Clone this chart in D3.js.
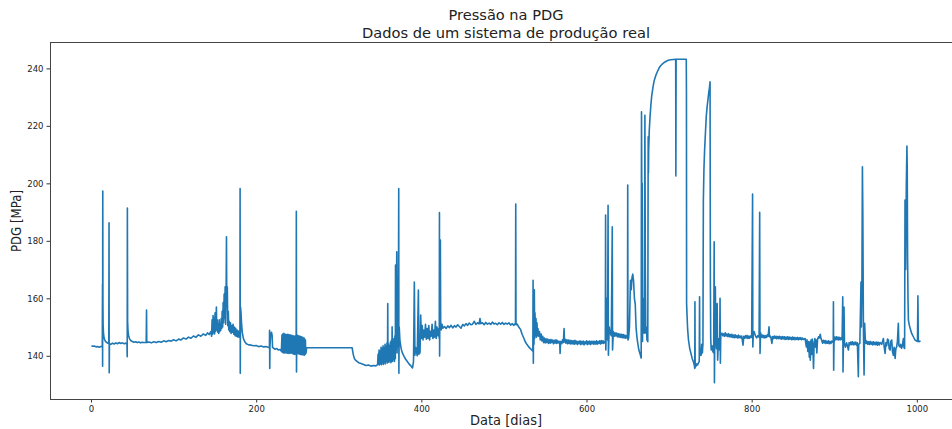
<!DOCTYPE html>
<html>
<head>
<meta charset="utf-8">
<script src="https://cdn.jsdelivr.net/npm/d3@7"></script>
<style>
  html, body { margin: 0; padding: 0; background: #fff; }
  svg { display: block; }
  text { font-family: "DejaVu Sans", sans-serif; fill: #222; }
</style>
</head>
<body>
<svg id="chart" width="952" height="429"></svg>
<script>
// Leituras de pressão no PDG: pares [dia, pressão em MPa], por trecho
const trecho1 = [
  [0.5,143.5],[2,143.3],[4,143.4],[6,143.1],[8,143.2],[10,143.0],[12,143.2],[13.6,143.3],
  [13.9,165],[14.0,136.4],[14.2,197.3],[14.4,158],[14.6,151],[15.0,148.2],[15.6,146.6],[16.4,145.6],[17.5,145.0],[19,144.6],[20.5,144.4],[21.5,144.3],
  [21.8,186.3],[22.0,134.1],[22.3,144.2],[24,144.0],[26,144.4],[28,144.1],[30,144.5],[32,144.2],[34,144.6],[36,144.3],[38,144.5],[40,144.2],[42,144.4],[43.5,144.3],
  [43.8,139.7],[44.0,191.4],[44.3,152],[44.8,148.5],[45.5,147.0],[46.5,146.0],[48,145.3],[50,145.0],[52,144.7],[54,144.9],[56,144.6],[58,144.8],[60,144.5],[62,144.7],[64,144.6],[66.8,144.7],
  [67.2,155.9],[67.5,144.6],[70,144.8],[73,144.5],[76,144.9],[79,144.6],[82,145.0],[85,144.7],[88,145.2],[91,144.9],[94,145.3],[97,145.1],[100,145.6],[103,145.2],[106,145.8],[109,145.5],[112,146.2],[115,145.8],[118,146.5],[121,146.1],[124,146.9],[127,146.4],[130,147.3],[133,146.8],[136,147.6],[139,147.1],[141,148.0],[143,147.4],[145,148.4]
];

const trecho2 = [
  [146,146.8],[146.6,152.5],[147.2,147.5],[147.8,154.0],[148.4,148.0],[149,153.0],[149.6,147.6],[150.2,155.0],[150.8,148.5],[151.4,153.5],[151.8,157.0],[152.2,149.0],[152.8,152.5],[153.4,148.2],[154,151.0],[154.6,147.8],[155.2,152.5],[155.8,148.4],[156.4,150.5],[157,148.8],[157.6,153.0],[158.2,149.5],[158.8,155.5],[159.4,150.0],[160,158.5],[160.6,151.5],[161.2,161.5],[161.8,153.0],[162.4,164.0],[163,151.0],[163.6,163.0],[164.0,181.4],[164.4,157.0],[165,164.0],[165.6,150.5],[166.2,155.5],[166.8,149.0],[167.4,152.0],[168,148.4],[168.8,151.5],[169.6,147.8],[170.4,150.5],[171.2,148.2],[172,151.0],[172.8,147.5],[173.6,150.0],[174.4,147.0],[175.2,149.6],[176,146.8],[176.8,149.0],[177.6,146.6],[178.4,148.6],[179.2,146.5],[179.9,147.5],
  [180.3,146.6],[180.5,198.2],[180.7,133.9],[181.0,157.0],[181.6,155.0],[182.3,151.0],[183.2,148.0],[184.5,146.0],[186,145.0],[188,144.2],[191,143.8],[194,143.7],[197,143.5],[200,143.6],[203,143.2],[206,143.4],[209,143.1],[212,143.2],[215,142.9],[216.0,143.0],
  [216.2,148.9],[216.4,135.6],[216.7,143.5],[217.5,147.5],[218.5,148.2],[219.3,147.0],[219.8,143.0],[221,142.6],[223,142.3],[225,142.5],[227,142.0],[229,142.2],[230.5,141.6]
];

const trecho3 = [
  [231.2,147.2],[231.6,141.2],[232.0,147.6],[232.4,141.5],[232.8,147.0],[233.2,141.0],[233.6,147.8],[234.0,141.4],[234.4,147.2],[234.8,141.0],[235.2,147.5],[235.6,141.3],[236.0,146.8],[236.4,141.0],[236.8,147.4],[237.2,141.2],[237.6,147.0],[238.0,140.9],[238.4,147.5],[238.8,141.2],[239.2,146.9],[239.6,140.8],[240.0,147.3],[240.4,141.0],[240.8,146.8],[241.2,140.9],[241.6,147.2],[242.0,141.1],[242.4,146.7],[242.8,141.0],[243.2,147.1],[243.6,140.8],[244.0,146.6],[244.4,140.9],[244.8,147.0],[245.2,140.6],[245.6,146.5],[246.0,140.8],[246.4,146.8],[246.8,140.5],[247.2,146.9],[247.6,140.7],[248.0,146.7],[248.4,141.0],
  [248.6,190.3],[248.8,134.4],[249.2,146.8],[249.6,141.0],[250.0,147.1],[250.4,140.8],[250.8,146.6],[251.2,140.9],[251.6,147.0],[252.0,140.6],[252.4,146.5],[252.8,140.8],[253.2,146.8],[253.6,140.5],[254.0,146.3],[254.4,140.7],[254.8,146.6],[255.2,140.4],[255.6,146.0],[256.0,140.6],[256.4,146.4],[256.8,140.3],[257.2,146.1],[257.6,140.5],[258.0,146.2],[258.4,140.2],[258.8,145.8],[259.2,140.5],[259.6,145.5],[260.0,140.8],[260.5,141.2],[261,142.8],
  [316.2,142.8],
  [317.5,140.5],[319,139.0],[321,138.3],[324,137.6],[327,137.3],[330,137.0],[333,136.6],[336,136.8],[339,136.4],[342,136.6],[345,136.5],[347,136.9]
];

const trecho4 = [
  [347.6,140.5],[348.2,137.0],[348.8,142.0],[349.4,136.8],[350,141.5],[350.6,137.2],[351.2,143.0],[351.8,136.9],[352.4,142.5],[353,137.5],[353.6,143.5],[354.2,137.0],[354.8,142.8],[355.4,137.6],[356,144.0],[356.6,137.2],[357.2,143.2],[357.8,138.0],[358.4,144.5],[359,137.5],[359.3,158.2],[359.6,138.0],[360.2,144.2],[360.8,137.8],[361.4,143.5],[362,138.2],[362.6,144.8],[363.2,137.6],[363.8,145.5],[364.3,138.5],[364.6,150.1],[365,138.0],[365.6,145.0],[366.2,138.6],[366.8,146.0],[367.4,138.0],[368,147.0],[368.5,139.0],[368.7,171.6],[369.2,142.0],[369.8,160.0],[370.2,176.2],[370.6,141.0],[371.2,165.0],[371.8,143.0],[372.4,175.0],[372.6,198.2],[372.8,133.9],[373.2,150.0],[374,145.5],[375.5,142.5],[377,141.0],[379,139.8],[381,138.8],[383,138.0],[385,137.2],[387,136.6],[389.3,135.8],
  [390.5,138.0],[391.5,165.7],[392.2,140.2],[393,143.0],[394,141.5],[395,140.0],[396.4,162.9],[397.0,140.5],[397.6,143.5],[398.4,141.0],[399.2,154.2],[400,146.0],[401,150.5],[402,145.5],[403,149.0],[404,146.5],[405,151.0],[406,145.8],[407,149.5],[408,146.0],[409,150.5],[410,145.5],[411,148.5],[412,146.8],[413,151.0],[414,146.0],[415,149.0],[416,146.5],[417,152.0],[418,146.0],[419,150.0],[420,147.0],[421,149.5],[421.7,146.0],[421.9,189.8],[422.1,139.9],[422.5,160.0],[423.0,180.3],[423.4,152.0],[424,149.0],[425,151.0],[426,149.6],[428,150.2],[430,149.5],[432,150.4],[434,149.8],[436,150.6],[438,149.7],[440,150.5],[442,150.0],[444,150.8],[446,150.2],[448,149.6],[450,150.9],[452,150.4],[454,151.2],[456,150.6],[458,151.4],[460,150.8],[462,151.0],[464,152.0],[466,150.9],[468,151.5],[470,151.1],[471,153.0],[472,151.2],[474,151.5],[476,150.8],[478,151.6],[480,151.0],[482,151.4],[484,150.9],[486,151.7],[488,151.1],[490,151.3],[492,150.8],[494,151.5],[496,151.0],[498,151.6],[500,150.9],[502,151.4],[504,151.0],[506,151.5],[508,150.7],[510,151.2],[512,150.6],[514,151.3],[514.3,192.8],[514.6,150.8],[516,151.0],[518,150.0],[520,149.2],[522,147.5],[524,146.2],[526,144.8],[528,143.9],[530,143.1],[532,142.5],[534,142.0],[535,141.6]
];

const trecho5 = [
  [535.3,166.3],[535.6,137.4],[536,160.0],[536.4,144.0],[536.8,163.0],[537.2,146.0],[537.6,155.0],[538.2,147.0],[538.8,153.0],[539.4,146.5],[540,151.5],[540.6,147.0],[541.2,149.5],[542,146.8],[543,148.4],[544,145.5],[545,147.6],[546,145.2],[547,146.8],[548,144.6],[549,146.2],[550,144.5],[551,145.9],[552,144.6],[553,145.8],[554,144.3],[555,145.6],[556,144.4],[557,145.7],[558,144.6],[559,145.5],[560,144.2],[561,145.4],[562,144.4],[563,145.6],[564,144.3],[565,145.3],[566,144.5],[567.5,145.0],[568,140.8],[568.6,145.0],[570,144.2],[571,145.6],[572,144.6],[572.8,149.5],[573.4,144.8],[574,145.8],[575,144.4],[576,145.6],[577,144.2],[578,145.5],[579,144.3],[580,145.4],[581,144.1],[582,145.3],[583,144.2],[584,145.2],[585,144.0],[586,145.4],[587,144.2],[588,145.1],[589,143.9],[590,145.0],[591,144.2],[592,145.2],[593,143.9],[594,145.0],[595,144.1],[596,145.1],[597,143.8],[598,144.9],[599,144.2],[600,145.2],[601,143.9],[602,145.0],[603,144.1],[604,145.1],[605,143.9],[606,145.0],[607,144.2],[608,145.1],[609,144.0],[610,145.0],[611,144.1],[612,145.2],[613,144.0],[614,145.0],[615,144.3],[616,145.2],[617,144.1],[618,145.3],[619,144.4],[620,145.2],[621,144.3],[622.8,145.2],
  [623.1,189.0],[623.4,142.0],[624.5,160.0],[625.5,145.5],[626.1,192.4],[626.5,140.2],[627.5,150.0],[628.5,148.0],[630,147.0],[631.2,184.9],[631.5,142.0],[632.5,148.4],[633.5,146.8],[634.5,148.0],[635.5,146.9],[636.5,147.9],[637.5,146.6],[638.5,147.7],[639.5,146.5],[640.5,147.6],[641.5,146.4],[642.5,147.5],[643.5,146.3],[644.5,147.4],[645.5,146.2],[646.5,147.2],[647.5,146.1],[648.5,147.0],[649.6,146.2],
  [649.9,199.4],[650.2,145.5],[651,146.2],[652,150.0],[653.2,166.3],[654.2,163.0],[655,167.0],[656,168.4],[657,166.0],[658,160.0],[659,158.0],[660,150.0],[661,146.6],[662,144.5],[663.4,142.0],[665,140.5],[666.2,139.2]
];

const trecho6 = [
  [666.6,224.9],[667.0,192.4],[667.4,200.0],[667.8,145.0],[668.5,160.0],[669,148.0],[670,147.9],[670.7,223.7],[671.2,170.0],[671.8,147.9],[672.5,150.0],[673.2,145.5],[674.2,144.9],[674.7,216.2],[675.0,203.5],[675.3,212.0],[676,218.5],[677,223.5],[678,227.5],[679,230.5],[680.5,233.5],[682,235.8],[684,237.6],[686,239.0],[688,240.2],[690,241.0],[693,241.8],[696,242.4],[699,242.8],[702,243.0],[705,243.1],[708.0,243.2],[708.2,202.6],[708.5,243.2],[712,243.2],[716,243.2],[720.8,243.2],
  [721.0,232.4],[721.2,158.2],[721.8,153.6],[722.5,149.0],[723.5,145.5],[725,142.5],[726.5,140.8],[728,139.0],[729.5,137.9],[730.5,136.8],[731.1,135.6],[731.3,158.8],[731.6,136.0],[732.5,136.4],[733.5,137.2],[734.5,136.8],[735.5,137.5],[736.5,138.0],[736.9,160.5],[737.2,140.0],[738,142.5],[738.8,140.2],[739.5,144.0],[740.3,141.0],[741,144.3],
  [741.5,194.2],[742.2,205.0],[743,211.6],[744,217.5],[745,223.2],[746,226.5],[747,229.0],[748,231.5],[749,233.6],[749.6,235.3],[750.0,165.2],[750.4,146.0],[751,142.0],[752,143.5],[753,141.5],[754,141.0],[754.6,179.7],[754.9,130.6],[755.4,150.0],[756,164.0],[756.6,146.0],[757.4,142.5],[758.2,158.2],[758.8,138.5],[759.6,144.3],[760.4,146.0],[761.2,142.0],[761.7,160.0],[762.1,137.4],[762.6,147.2]
];

const trecho7 = [
  [764,147.9],[765,147.0],[766,147.6],[767,146.8],[768,148.0],[769,146.9],[770,147.6],[771,146.7],[772,147.7],[773,146.6],[774,147.4],[775,146.5],[776,147.5],[777,146.4],[778,147.2],[779,146.3],[780,147.3],[781,146.4],[782,147.0],[783,146.2],[784,147.2],[785,146.3],[786,146.9],[787,146.2],[788,146.9],[789.5,143.7],[790.5,146.8],[791.5,146.1],[792.5,147.0],[793.5,146.2],[794.5,147.1],[795.5,146.0],[796.5,146.9],[797.5,146.1],[798.5,146.9],[800,146.4],[801.1,196.3],[801.4,143.1],[802,148.0],[803,148.4],[804.5,147.0],[806,146.2],[807.5,147.0],[809,146.4],[809.7,189.9],[810.1,140.8],[810.8,148.0],[812,146.5],[813,147.2],[814,146.3],[815,147.1],[816,146.2],[817,147.0],[818,146.4],[819,147.3],[820,146.8],[821,150.1],[821.6,146.6],[823,146.8],[824.5,144.3],[825.5,146.7],[826.5,146.0],[827.5,146.9],[828.5,146.1],[829.5,146.8],[830.5,145.9],[831.5,146.7],[832.5,146.0],[833.5,146.8],[834.5,145.9],[835.5,146.6],[836.5,145.8],[837.5,146.7],[838.5,145.9],[839.5,146.6],[840.5,145.7],[841.5,146.5],[842.5,145.8],[843.5,146.6],[844.5,145.7],[845.5,146.5],[846.5,145.8],[847.5,146.4],[848.5,145.6],[849.5,146.5],[850.5,145.7],[851.5,146.4],[852.5,145.6],[853.5,146.3],[854.5,145.7],[855.5,146.4],[856.5,145.6],[857.5,146.3],[858.5,145.7],[859.5,146.3],[860.5,145.6],[861.5,146.2],[862.5,145.7],[864.8,146.0],
  [865.5,144.5],[866.2,143.1],[867,145.6],[868,141.5],[869,145.0],[869.8,139.5],[870.5,144.8],[871,138.5],[871.8,145.5],[872.6,140.5],[873.4,145.8],[874.2,142.0],[874.9,135.6],[875.6,144.3],[876.6,146.0],[877.5,143.0],[878.3,145.5],[878.9,141.0],[879.8,145.8],[881,146.6],[882,146.2],[883,147.5],[884,146.0],[885,145.2],[886,144.4],[887,145.4],[888,144.5],[889,145.3],[890,144.3],[891,145.1],[892,144.4],[893,145.2],[894,144.2],[895,145.0],[896,144.3],[897,145.1],[898.8,144.6]
];

const trecho8 = [
  [899.0,158.8],[899.3,135.0],[899.7,144.5],[900.5,146.5],[901.5,145.6],[902.5,146.6],[903.5,145.6],[904.5,146.5],[905.5,145.5],[906.5,146.4],[907.5,145.6],[908.5,146.3],[909.5,145.6],[910.3,160.5],[910.6,134.4],[911.2,146.0],[911.8,157.0],[912.4,144.5],[913.5,143.0],[915,144.5],[917.2,142.0],[918,144.6],[919,143.8],[920,144.8],[921,143.9],[922,144.9],[923,143.8],[924,144.7],[925,143.9],[926,144.8],[927,143.7],[928,144.5],[929.2,132.7],[929.6,144.0],[931,144.3],[932.4,165.7],[932.8,150.0],[933.5,165.0],[934.1,205.8],[934.6,190.0],[935.3,150.0],[936.1,133.3],[936.8,151.3],[937.5,146.0],[938.5,144.3],[939.5,145.1],[940.5,144.0],[941.5,144.9],[942.5,143.9],[943.5,145.0],[944.5,144.0],[945.5,144.8],[946.5,143.8],[947.5,144.9],[948.5,143.9],[949.5,144.7],[950.5,143.8],[951.5,144.8],[952.5,143.7],[953.5,144.7],[954.5,143.8],[955.5,144.6],[957.5,144.0],
  [959.5,146.0],[960.5,143.0],[961.6,140.8],[962.5,144.5],[963.5,143.5],[964.5,145.8],[965.6,145.5],[966.5,142.5],[967.6,142.0],[968.5,145.0],[969.6,145.5],[970.5,141.5],[971.6,140.2],[972.5,143.0],[973.7,139.1],[974.6,142.5],[975.6,143.1],[976.5,145.0],[977.6,151.3],[978.3,143.5],[979.7,143.1],[980.5,144.0],[981.6,142.6],[982.5,143.5],[983.7,146.0],[984.5,142.8],[985.2,142.6],
  [985.7,194.2],[986.5,170.0],[987.3,200.0],[988.0,213.0],[988.4,205.0],[988.8,175.0],[989.3,160.0],[989.8,152.4],[991,150.5],[992.5,149.0],[993.7,147.8],[995.5,146.8],[997.8,145.5],[999.5,145.2],[1000.8,145.0],[1001.3,160.9],[1001.8,145.5],[1002.6,144.9],[1004.5,145.2]
];

const ticksDias = [0, 200, 400, 600, 800, 1000];
const ticksPressao = [140, 160, 180, 200, 220, 240];

const titulo = ["Pressão na PDG", "Dados de um sistema de produção real"];
const rotuloX = "Data [dias]";
const rotuloY = "PDG [MPa]";

const serie = [].concat(trecho1, trecho2, trecho3, trecho4, trecho5, trecho6, trecho7, trecho8);

// Área dos eixos (o lado direito passa da largura da figura)
const area = { left: 50, top: 43, right: 962, bottom: 399 };

// Margem de 5% em torno dos dados, como no autoscale do matplotlib
function comMargem(ext) {
  const m = (ext[1] - ext[0]) * 0.05;
  return [ext[0] - m, ext[1] + m];
}

const x = d3.scaleLinear()
  .domain(comMargem(d3.extent(serie, d => d[0])))
  .range([area.left, area.right]);
const y = d3.scaleLinear()
  .domain(comMargem(d3.extent(serie, d => d[1])))
  .range([area.bottom, area.top]);

const svg = d3.select("#chart");

svg.append("defs").append("clipPath").attr("id", "clip")
  .append("rect")
  .attr("x", area.left).attr("y", area.top)
  .attr("width", area.right - area.left).attr("height", area.bottom - area.top);

// Série temporal
svg.append("path")
  .datum(serie)
  .attr("clip-path", "url(#clip)")
  .attr("fill", "none")
  .attr("stroke", "#1f77b4")
  .attr("stroke-width", 1.6)
  .attr("stroke-linejoin", "round")
  .attr("d", d3.line().x(d => x(d[0])).y(d => y(d[1])));

// Eixo x
const gx = svg.append("g")
  .attr("transform", `translate(0,${area.bottom})`)
  .call(d3.axisBottom(x).tickValues(ticksDias).tickSize(3.5).tickPadding(3).tickFormat(d3.format("d")));
gx.select(".domain").remove();
gx.selectAll(".tick line").attr("stroke", "#333");
gx.selectAll(".tick text").attr("font-size", 8.5).attr("fill", "#222")
  .style("font-family", "'DejaVu Sans', sans-serif");

// Eixo y
const gy = svg.append("g")
  .attr("transform", `translate(${area.left},0)`)
  .call(d3.axisLeft(y).tickValues(ticksPressao).tickSize(3.5).tickPadding(3).tickFormat(d3.format("d")));
gy.select(".domain").remove();
gy.selectAll(".tick line").attr("stroke", "#333");
gy.selectAll(".tick text").attr("font-size", 8.5).attr("fill", "#222")
  .style("font-family", "'DejaVu Sans', sans-serif");

// Molduras
const moldura = svg.append("g").attr("stroke", "#444").attr("stroke-width", 1).attr("fill", "none");
moldura.append("line").attr("x1", area.left + 0.5).attr("x2", area.left + 0.5).attr("y1", area.top).attr("y2", area.bottom);
moldura.append("line").attr("x1", area.left).attr("x2", area.right).attr("y1", area.bottom + 0.5).attr("y2", area.bottom + 0.5);
moldura.append("line").attr("x1", area.left).attr("x2", area.right).attr("y1", area.top - 0.5).attr("y2", area.top - 0.5);
moldura.append("line").attr("x1", area.right - 0.5).attr("x2", area.right - 0.5).attr("y1", area.top).attr("y2", area.bottom);

// Títulos
const cx = (area.left + area.right) / 2;
svg.append("text").attr("x", cx).attr("y", 20).attr("text-anchor", "middle")
  .attr("font-size", 14.5).attr("textLength", 115).attr("lengthAdjust", "spacingAndGlyphs")
  .text(titulo[0]);
svg.append("text").attr("x", cx).attr("y", 38).attr("text-anchor", "middle")
  .attr("font-size", 14.5).attr("textLength", 288).attr("lengthAdjust", "spacingAndGlyphs")
  .text(titulo[1]);

svg.append("text").attr("x", cx).attr("y", 425).attr("text-anchor", "middle")
  .attr("font-size", 14.5).attr("textLength", 72).attr("lengthAdjust", "spacingAndGlyphs")
  .text(rotuloX);

svg.append("text")
  .attr("transform", `translate(21,${(area.top + area.bottom) / 2}) rotate(-90)`)
  .attr("text-anchor", "middle")
  .attr("font-size", 14.5).attr("textLength", 62).attr("lengthAdjust", "spacingAndGlyphs")
  .text(rotuloY);
</script>
</body>
</html>
